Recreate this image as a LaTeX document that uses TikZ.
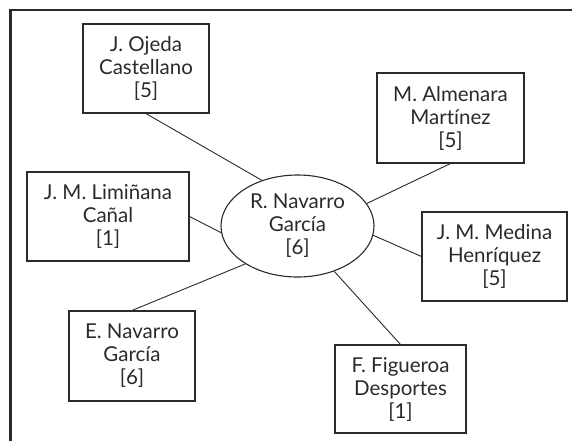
\documentclass[tikz,border=0pt]{standalone}
\usepackage{fontspec}
\setmainfont[Ligatures=NoCommon]{Lato}
\usetikzlibrary{shapes.geometric}
\definecolor{ink}{HTML}{2A2A2A}
\tikzset{
  person/.style={draw=ink, line width=1.1pt, rectangle, inner sep=0pt, align=center,
    text=ink, font=\fontsize{20.5}{23}\selectfont},
  hub/.style={draw=ink, line width=1.1pt, ellipse, inner sep=0pt, align=center,
    text=ink, font=\fontsize{20.5}{23}\selectfont},
  link/.style={draw=ink, line width=0.9pt},
  frame/.style={draw=ink, line width=2.6pt}
}
\begin{document}
\begin{tikzpicture}[x=1pt,y=-1pt]
\useasboundingbox (0,0) rectangle (572,440);
\draw[frame] (10.5,441) -- (10.5,10) -- (573,10);
\node[hub, minimum width=153pt, minimum height=102pt] (rn) at (297.5,226) {R. Navarro\\García\\{[6]}};
\node[person, minimum width=126pt, minimum height=89pt] (oj) at (146,68.5) {J. Ojeda\\Castellano\\{[5]}};
\node[person, minimum width=162pt, minimum height=89pt] (li) at (108,216.5) {J. M. Limiñana\\Cañal\\{[1]}};
\node[person, minimum width=147pt, minimum height=90pt] (al) at (450.5,118) {M. Almenara\\Martínez\\{[5]}};
\node[person, minimum width=145pt, minimum height=89pt] (me) at (494.5,256.5) {J. M. Medina\\Henríquez\\{[5]}};
\node[person, minimum width=126pt, minimum height=90pt] (en) at (132,356) {E. Navarro\\García\\{[6]}};
\node[person, minimum width=131pt, minimum height=88pt] (fi) at (400.5,389) {F. Figueroa\\Desportes\\{[1]}};
\draw[link] (oj.south) -- (rn.128);
\draw[link] (al.south) -- (rn.18);
\draw[link] (li.east) -- (rn.185);
\draw[link] (en.north) -- (rn.216);
\draw[link] (me.west) -- (rn.353);
\draw[link] (fi.north) -- (rn.309);
\end{tikzpicture}
\end{document}
